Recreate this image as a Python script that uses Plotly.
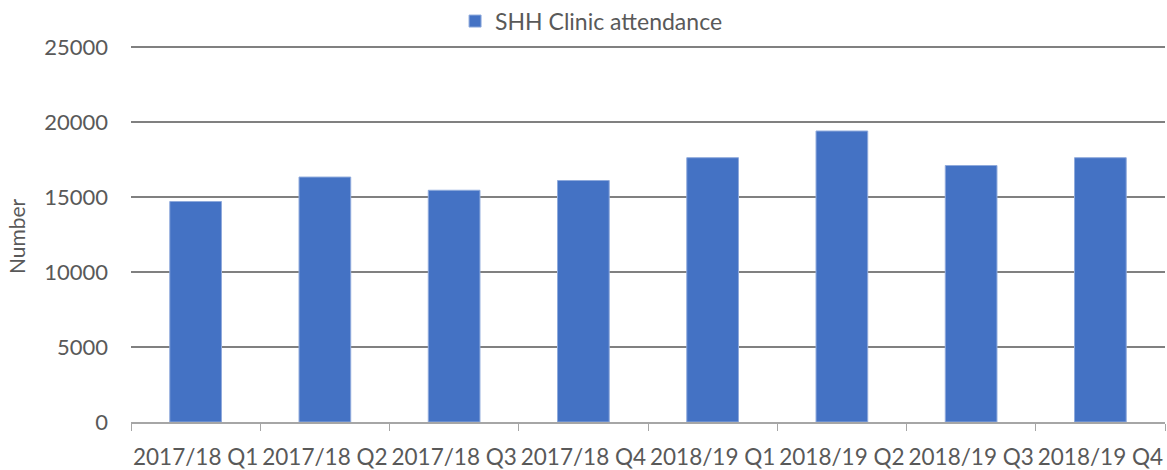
import plotly.graph_objects as go

categories = ["2017/18 Q1", "2017/18 Q2", "2017/18 Q3", "2017/18 Q4",
              "2018/19 Q1", "2018/19 Q2", "2018/19 Q3", "2018/19 Q4"]
attendance = [14700, 16330, 15450, 16100, 17620, 19400, 17100, 17620]
y_ticks = [0, 5000, 10000, 15000, 20000, 25000]
y_tick_text = [str(v) for v in y_ticks]

FONT = "Lato"
GREY = "#595959"

fig = go.Figure()
fig.add_trace(go.Bar(
    x=categories, y=attendance, name="SHH Clinic attendance",
    marker=dict(color="#4472C4", line=dict(color="#8FAADC", width=1)),
    showlegend=True,
))

fig.update_layout(
    width=1167, height=470,
    margin=dict(l=131, r=2, t=42, b=48, autoexpand=False),
    paper_bgcolor="white", plot_bgcolor="white",
    bargap=0.6,
    font=dict(family=FONT, size=22, color=GREY),
    legend=dict(orientation="h", x=0.3134, xanchor="left", y=1.055, yanchor="middle",
                font=dict(family=FONT, size=23, color=GREY),
                bgcolor="rgba(0,0,0,0)"),
    xaxis=dict(
        type="category", automargin=False,
        showline=True, linecolor="#A6A6A6", linewidth=1.5,
        ticks="outside", tickson="boundaries", ticklen=7, tickcolor="#A6A6A6",
        tickfont=dict(family=FONT, size=22.5, color=GREY),
        tickangle=0, ticklabelstandoff=14,
        showgrid=False,
    ),
    yaxis=dict(
        range=[0, 25333], tickvals=y_ticks, ticktext=y_tick_text,
        automargin=False,
        showgrid=True, gridcolor="#808080", gridwidth=1.5,
        zeroline=False, showline=False,
        ticks="", ticklabelstandoff=22,
        tickfont=dict(family=FONT, size=22, color=GREY),
    ),
)

fig.add_annotation(
    text="Number", xref="paper", yref="paper", x=-0.11, y=0.49,
    xanchor="center", yanchor="middle", textangle=-90, showarrow=False,
    font=dict(family=FONT, size=21, color=GREY),
)

fig.write_html("out.html", config={"displayModeBar": False},
               post_script="document.body.style.margin='0';")
